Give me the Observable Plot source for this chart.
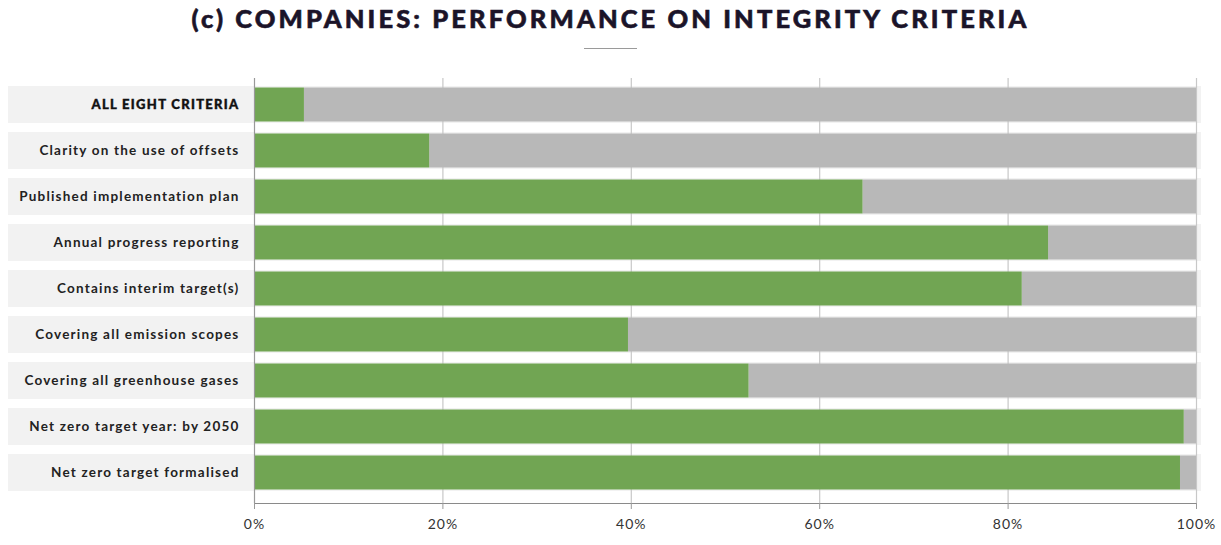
<!DOCTYPE html>
<html>
<head>
<meta charset="utf-8">
<script src="https://cdn.jsdelivr.net/npm/d3@7"></script>
<script src="https://cdn.jsdelivr.net/npm/@observablehq/plot@0.6"></script>
<style>
  html, body { margin: 0; padding: 0; background: #fff; }
  #wrap { width: 1221px; height: 545px; position: relative; overflow: hidden; }
  #title { height: 60px; position: relative; }
  #title h1 {
    margin: 0; position: absolute; left: 0; right: 0; top: 3px;
    text-align: center; font-family: Lato, sans-serif; font-weight: 900;
    font-size: 25.5px; letter-spacing: 3.1px; color: #1b1429; line-height: 30px;
    -webkit-text-stroke: 0.6px #1b1429;
  }
  #title .rule { position: absolute; left: 584px; top: 48px; width: 53px; height: 1px; background: #9a9a9a; }
</style>
</head>
<body>
<div id="wrap">
  <div id="title"><h1>(c) COMPANIES: PERFORMANCE ON INTEGRITY CRITERIA</h1><div class="rule"></div></div>
  <div id="chart"></div>
</div>
<script>
const categories = [
  "ALL EIGHT CRITERIA",
  "Clarity on the use of offsets",
  "Published implementation plan",
  "Annual progress reporting",
  "Contains interim target(s)",
  "Covering all emission scopes",
  "Covering all greenhouse gases",
  "Net zero target year: by 2050",
  "Net zero target formalised"
];
const values = [5.3, 18.6, 64.6, 84.3, 81.5, 39.7, 52.5, 98.7, 98.3];
const ticks = [0, 20, 40, 60, 80, 100];
const tickLabels = ["0%", "20%", "40%", "60%", "80%", "100%"];

const data = categories.map((c, i) => ({category: c, value: values[i]}));

const chart = Plot.plot({
  width: 1221,
  height: 485,
  marginTop: 18,
  marginBottom: 42,
  marginLeft: 254,
  marginRight: 25,
  style: {fontFamily: "Lato, sans-serif", fontSize: "14px", color: "#333", background: "#fff", overflow: "visible"},
  x: {domain: [0, 100], axis: null, label: null},
  y: {domain: categories, range: [25.5, 431.5], paddingInner: 0.2, paddingOuter: 0, axis: null},
  marks: [
    Plot.barX(categories, {y: d => d, x1: 0, x2: 100, fill: "#f2f2f2", insetLeft: -246, insetRight: -5}),
    Plot.ruleX(ticks.filter(t => t !== 0), {x: d => d, stroke: "#c8c8c8", strokeWidth: 1.2}),
    Plot.barX(data, {y: "category", x1: "value", x2: 100, fill: "#b8b8b8", insetTop: 1.5, insetBottom: 1.5}),
    Plot.barX(data, {y: "category", x1: 0, x2: "value", fill: "#71a553", insetTop: 1.5, insetBottom: 1.5}),
    Plot.ruleX([0], {x: d => d, stroke: "#999", strokeWidth: 1.2}),
    Plot.frame({anchor: "bottom", stroke: "#8a8a8a"}),
    Plot.axisX({ticks, label: null, tickFormat: d => tickLabels[ticks.indexOf(d)], tickSize: 6, tickPadding: 10, stroke: "#9a9a9a", fill: "#333", fontSize: 14}),
    Plot.text(data.slice(1), {y: "category", text: "category", frameAnchor: "left", dx: -15, textAnchor: "end", fill: "#222", fontWeight: "bold", fontSize: 13.5}),
    Plot.text(data.slice(0, 1), {y: "category", text: "category", frameAnchor: "left", dx: -15, textAnchor: "end", fill: "#111", fontWeight: 900, fontSize: 13})
  ]
});
document.getElementById("chart").appendChild(chart);

// letter spacing styling
const sel = d3.select(chart);
const textGroups = sel.selectAll('g[aria-label="text"]').nodes();
if (textGroups[0]) d3.select(textGroups[0]).selectAll("text").style("letter-spacing", "1.2px");
if (textGroups[1]) d3.select(textGroups[1]).selectAll("text").style("letter-spacing", "1.3px").style("stroke", "#111").style("stroke-width", "0.4px");
sel.selectAll('g[aria-label="x-axis tick label"] text').style("letter-spacing", "1px");
</script>
</body>
</html>
